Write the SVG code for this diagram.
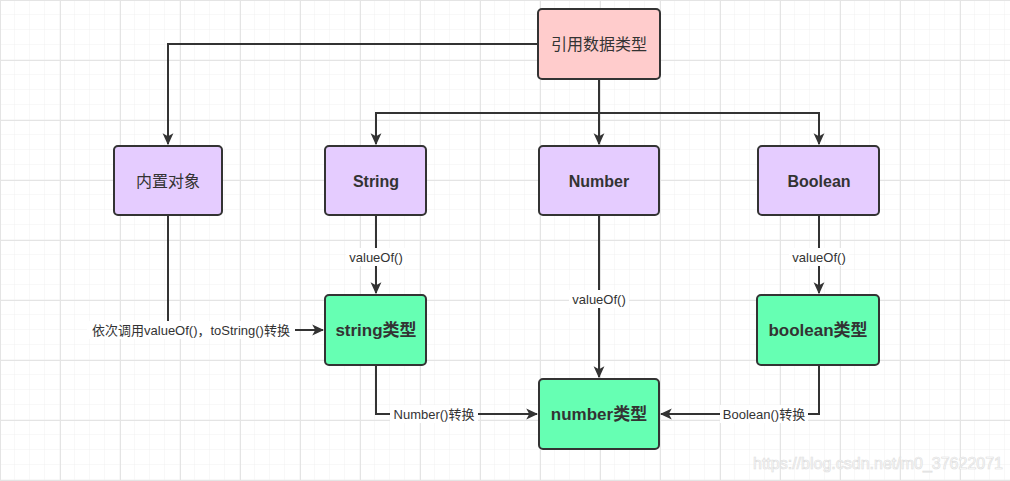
<svg xmlns="http://www.w3.org/2000/svg" width="1010" height="481" viewBox="0 0 1010 481">
<defs>
<pattern id="minor" width="15" height="15" patternUnits="userSpaceOnUse">
<path d="M15 0V15M0 15H15" fill="none" stroke="#f0f0f0" stroke-width="1"/>
</pattern>
<pattern id="major" width="60" height="60" patternUnits="userSpaceOnUse">
<rect width="60" height="60" fill="url(#minor)"/>
<path d="M0.5 0V60M0 0.5H60" fill="none" stroke="#e4e4e4" stroke-width="1"/>
</pattern>
<marker id="arr" viewBox="0 0 10 10" refX="9" refY="5" markerWidth="6" markerHeight="6" orient="auto" markerUnits="strokeWidth">
<path d="M0 0.5L10 5L0 9.5L2.5 5Z" fill="#333"/>
</marker>
</defs>
<style>
.node rect{stroke:#333;stroke-width:2}
.pink{fill:#ffcccc}
.purple{fill:#e5ccff}
.green{fill:#66ffb3}
.t{font-family:"Liberation Sans","Noto Sans CJK SC",sans-serif;fill:#333;text-anchor:middle;dominant-baseline:central}
.n1{font-size:16px}
.b1{font-size:16px;font-weight:bold}
.b2{font-size:17px;font-weight:bold}
.lbl{font-family:"Liberation Sans","Noto Sans CJK SC",sans-serif;font-size:13px;fill:#333;text-anchor:middle;dominant-baseline:central}
.edge{fill:none;stroke:#333;stroke-width:2}
.lb{fill:#fff}
</style>
<rect width="1010" height="481" fill="#fff"/>
<rect width="1010" height="481" fill="url(#major)"/>
<g id="connectors">
<path class="edge" d="M538 44H168V144" marker-end="url(#arr)"/>
<path class="edge" d="M599 79V113H376V144" marker-end="url(#arr)"/>
<path class="edge" d="M599 79V144" marker-end="url(#arr)"/>
<path class="edge" d="M599 113H819V144" marker-end="url(#arr)"/>
<path class="edge" d="M168 215V330H323" marker-end="url(#arr)"/>
<path class="edge" d="M376 215V293" marker-end="url(#arr)"/>
<path class="edge" d="M599 215V377" marker-end="url(#arr)"/>
<path class="edge" d="M819 215V293" marker-end="url(#arr)"/>
<path class="edge" d="M376 365V414H537" marker-end="url(#arr)"/>
<path class="edge" d="M819 365V414H661" marker-end="url(#arr)"/>
<rect class="lb" x="87" y="321" width="208" height="18"/>
<text class="lbl" x="191" y="330">依次调用valueOf()，toString()转换</text>
<rect class="lb" x="346" y="248" width="60" height="18"/>
<text class="lbl" x="376" y="257">valueOf()</text>
<rect class="lb" x="569" y="290" width="60" height="18"/>
<text class="lbl" x="599" y="299">valueOf()</text>
<rect class="lb" x="789" y="248" width="60" height="18"/>
<text class="lbl" x="819" y="257">valueOf()</text>
<rect class="lb" x="390" y="405" width="88" height="18"/>
<text class="lbl" x="434" y="414">Number()转换</text>
<rect class="lb" x="720" y="405" width="88" height="18"/>
<text class="lbl" x="764" y="414">Boolean()转换</text>
</g>
<g id="ref" class="node"><rect class="pink" x="538" y="9" width="122" height="70" rx="4"/><text class="t n1" x="599" y="44">引用数据类型</text></g>
<g id="builtin" class="node"><rect class="purple" x="114" y="146" width="108" height="69" rx="4"/><text class="t n1" x="168" y="181">内置对象</text></g>
<g id="String" class="node"><rect class="purple" x="325" y="146" width="101" height="69" rx="4"/><text class="t b1" x="376" y="181">String</text></g>
<g id="Number" class="node"><rect class="purple" x="539" y="146" width="120" height="69" rx="4"/><text class="t b1" x="599" y="181">Number</text></g>
<g id="Boolean" class="node"><rect class="purple" x="758" y="146" width="121" height="69" rx="4"/><text class="t b1" x="819" y="181">Boolean</text></g>
<g id="stringT" class="node"><rect class="green" x="325" y="295" width="101" height="70" rx="4"/><text class="t b2" x="376" y="330">string类型</text></g>
<g id="numberT" class="node"><rect class="green" x="539" y="379" width="120" height="70" rx="4"/><text class="t b2" x="599" y="414">number类型</text></g>
<g id="booleanT" class="node"><rect class="green" x="757" y="295" width="122" height="70" rx="4"/><text class="t b2" x="818" y="330">boolean类型</text></g>
<text x="878" y="463" font-family="Liberation Sans, sans-serif" font-size="16" fill="#fff" stroke="#e0e0e0" stroke-width="0.7" text-anchor="middle" dominant-baseline="central">https://blog.csdn.net/m0_37622071</text>
</svg>
